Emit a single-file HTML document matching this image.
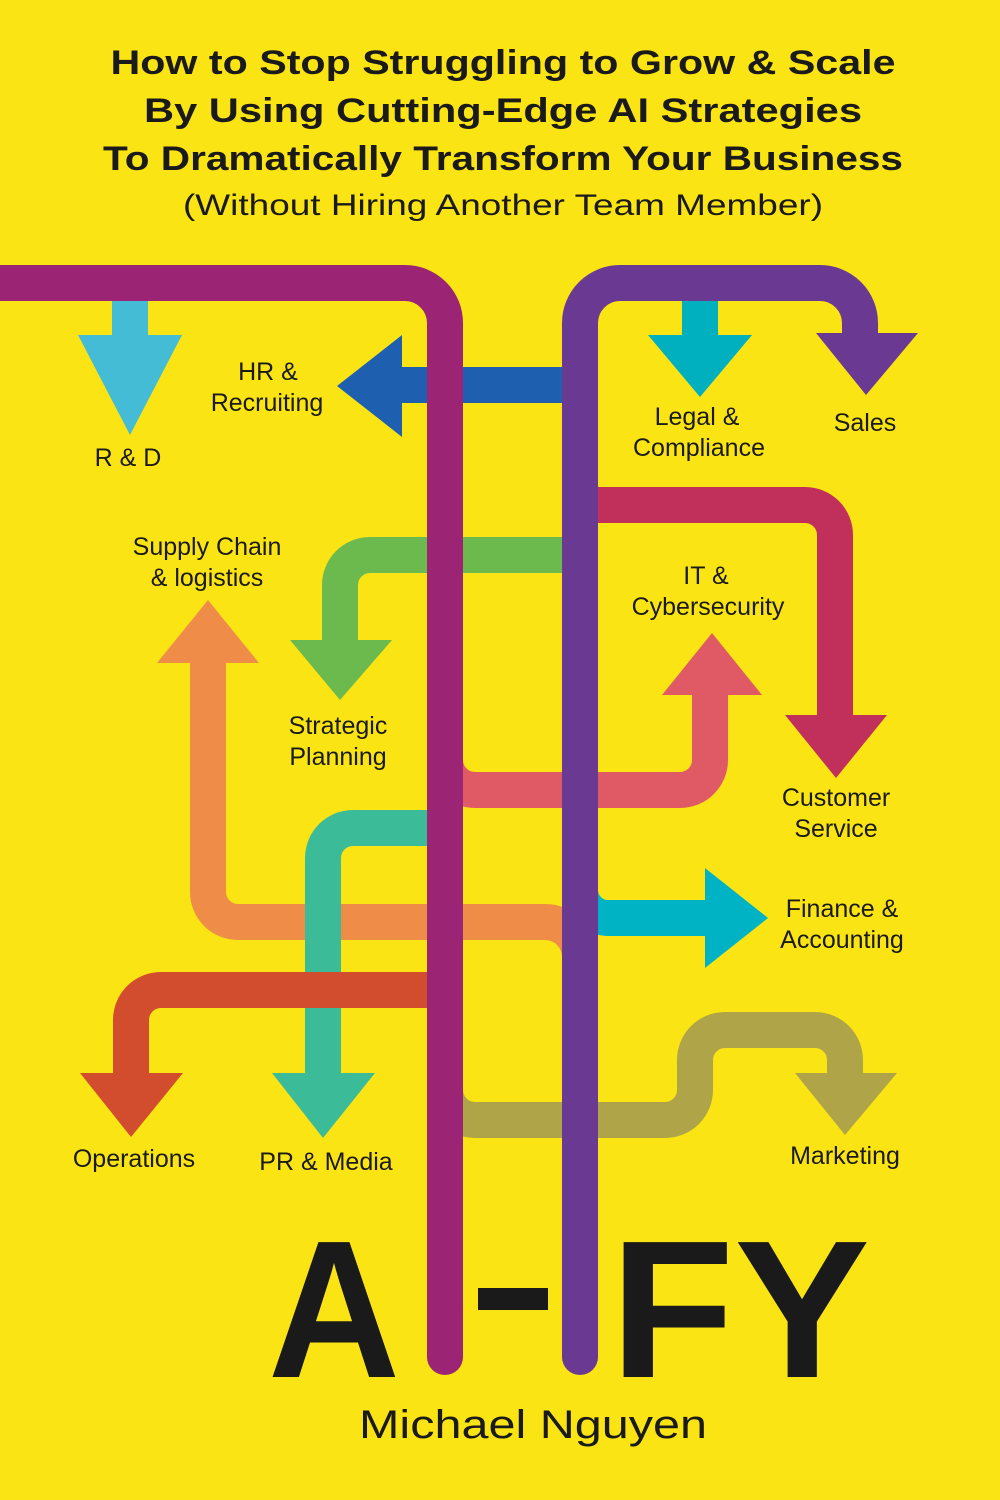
<!DOCTYPE html>
<html><head><meta charset="utf-8"><style>
html,body{margin:0;padding:0}
body{width:1000px;height:1500px;background:#fbe414;overflow:hidden;position:relative;font-family:"Liberation Sans",sans-serif;color:#1a1a1a}
svg{position:absolute;left:0;top:0}
</style></head><body>
<svg width="1000" height="1500" viewBox="0 0 1000 1500">
<g fill="none" stroke-width="36" stroke-linejoin="round">
<path d="M130 283 V340" stroke="#45bcd6"/>
<polygon points="78,335 182,335 130,435" fill="#45bcd6" stroke="none"/>
<path d="M700 283 V340" stroke="#00b0bf"/>
<polygon points="648,335 752,335 700,397" fill="#00b0bf" stroke="none"/>
<path d="M580 385 H395" stroke="#1f5fb0"/>
<polygon points="402,335 402,437 337,386" fill="#1f5fb0" stroke="none"/>
<path d="M580 505 H805 a30 30 0 0 1 30 30 V720" stroke="#c0305a"/>
<polygon points="785,715 887,715 836,778" fill="#c0305a" stroke="none"/>
<path d="M580 555 H370 a30 30 0 0 0 -30 30 V645" stroke="#6cb94e"/>
<polygon points="290,640 392,640 340,700" fill="#6cb94e" stroke="none"/>
<path d="M580 990 V957 a35 35 0 0 0 -35 -35 H238 a30 30 0 0 1 -30 -30 V658" stroke="#ef8c48"/>
<polygon points="157,663 259,663 208,600" fill="#ef8c48" stroke="none"/>
<path d="M445 740 V760 a30 30 0 0 0 30 30 H680 a30 30 0 0 0 30 -30 V690" stroke="#e05a66"/>
<polygon points="662,695 762,695 712,633" fill="#e05a66" stroke="none"/>
<path d="M445 828 H353 a30 30 0 0 0 -30 30 V1078" stroke="#3cbb98"/>
<polygon points="272,1073 375,1073 323,1138" fill="#3cbb98" stroke="none"/>
<path d="M580 880 V890 a28 28 0 0 0 28 28 H710" stroke="#00b3c4"/>
<polygon points="705,868 705,968 768,918" fill="#00b3c4" stroke="none"/>
<path d="M445 990 H161 a30 30 0 0 0 -30 30 V1078" stroke="#d24d2d"/>
<polygon points="80,1073 183,1073 131,1137" fill="#d24d2d" stroke="none"/>
<path d="M445 1070 V1090 a30 30 0 0 0 30 30 H665 a30 30 0 0 0 30 -30 V1060 a30 30 0 0 1 30 -30 H815 a30 30 0 0 1 30 30 V1078" stroke="#b0a448"/>
<polygon points="795,1073 897,1073 845,1135" fill="#b0a448" stroke="none"/>
<path d="M0 283 H405 a40 40 0 0 1 40 40 V1357" stroke="#9b2474" stroke-linecap="round"/>
<path d="M580 1357 V323 a40 40 0 0 1 40 -40 H820 a40 40 0 0 1 40 40 V340" stroke="#6a3a93" stroke-linecap="round"/>
<polygon points="816,333 918,333 866,395" fill="#6a3a93" stroke="none"/>
</g>
<g font-family="Liberation Sans, sans-serif" font-size="25" fill="#1a1a1a" text-anchor="middle">
<text x="268" y="380">HR &amp;</text><text x="267" y="411">Recruiting</text>
<text x="128" y="466">R &amp; D</text>
<text x="697" y="425">Legal &amp;</text><text x="699" y="456">Compliance</text>
<text x="865" y="431">Sales</text>
<text x="207" y="555">Supply Chain</text><text x="207" y="586">&amp; logistics</text>
<text x="706" y="584">IT &amp;</text><text x="708" y="615">Cybersecurity</text>
<text x="338" y="734">Strategic</text><text x="338" y="765">Planning</text>
<text x="836" y="806">Customer</text><text x="836" y="837">Service</text>
<text x="842" y="917">Finance &amp;</text><text x="842" y="948">Accounting</text>
<text x="134" y="1167">Operations</text>
<text x="326" y="1170">PR &amp; Media</text>
<text x="845" y="1164">Marketing</text>
</g>
<g font-family="Liberation Sans, sans-serif" font-weight="bold" fill="#1a1a1a">
<text x="268" y="1377" font-size="196" textLength="132" lengthAdjust="spacingAndGlyphs">A</text>
<rect x="478" y="1288" width="70" height="22"/>
<text x="610" y="1377" font-size="196" textLength="260" lengthAdjust="spacingAndGlyphs">FY</text>
</g>
<g font-family="Liberation Sans, sans-serif" text-anchor="middle" fill="#1a1a1a">
<text x="503" y="74" font-size="34" font-weight="bold" textLength="785" lengthAdjust="spacingAndGlyphs">How to Stop Struggling to Grow &amp; Scale</text>
<text x="503" y="122" font-size="34" font-weight="bold" textLength="718" lengthAdjust="spacingAndGlyphs">By Using Cutting-Edge AI Strategies</text>
<text x="503" y="170" font-size="34" font-weight="bold" textLength="800" lengthAdjust="spacingAndGlyphs">To Dramatically Transform Your Business</text>
<text x="503" y="215" font-size="30" textLength="640" lengthAdjust="spacingAndGlyphs">(Without Hiring Another Team Member)</text>
<text x="533" y="1438" font-size="40" textLength="348" lengthAdjust="spacingAndGlyphs">Michael Nguyen</text>
</g>
</svg>
</body></html>
